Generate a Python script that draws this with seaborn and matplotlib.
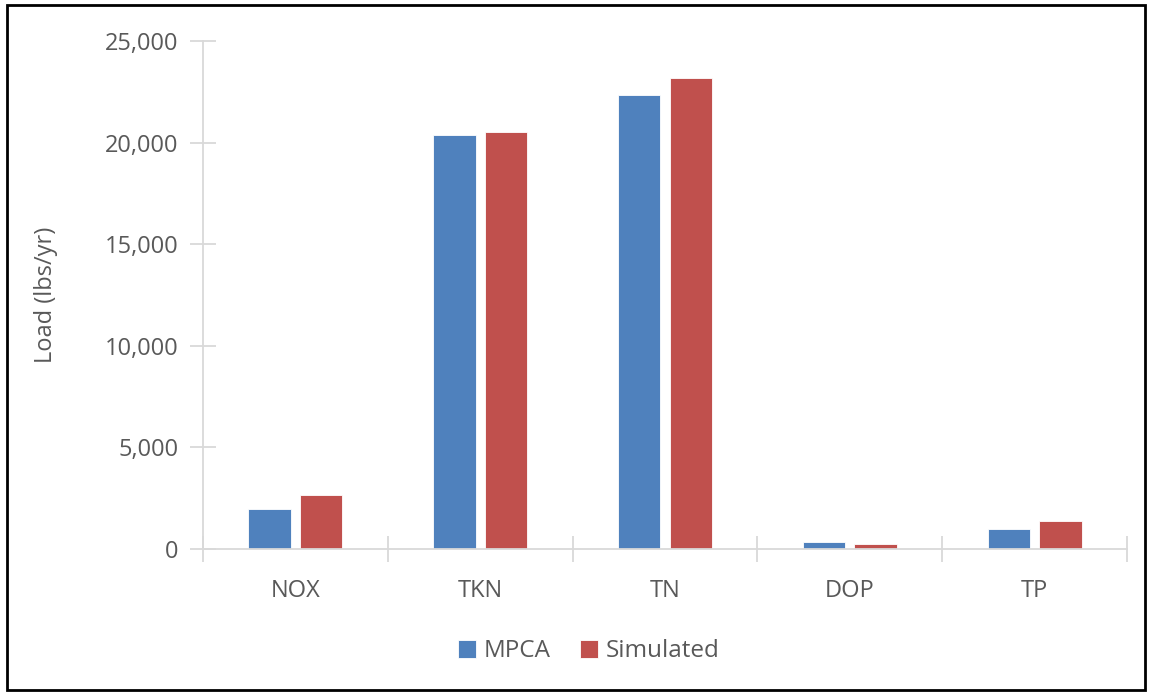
import pandas as pd
import seaborn as sns
import matplotlib.pyplot as plt
from matplotlib.patches import Rectangle

# values (lbs/yr)
categories = ["NOX", "TKN", "TN", "DOP", "TP"]
mpca = [1970, 20360, 22340, 320, 1000]
simulated = [2660, 20520, 23170, 250, 1380]

df = pd.DataFrame({
    "Constituent": categories * 2,
    "Load": mpca + simulated,
    "Source": ["MPCA"] * len(categories) + ["Simulated"] * len(categories),
})

sns.set_style("white")
plt.rcParams["font.family"] = ["Open Sans", "DejaVu Sans"]
text_color = "#595959"
axis_color = "#D9D9D9"

fig = plt.figure(figsize=(11.52, 6.95), dpi=100)
ax = fig.add_axes([203 / 1152, 1 - 549 / 695, 924 / 1152, 508 / 695])

sns.barplot(
    data=df,
    x="Constituent",
    y="Load",
    hue="Source",
    palette=["#4F81BD", "#C0504D"],
    saturation=1,
    width=0.56,
    gap=0.18,
    edgecolor="white",
    linewidth=0.6,
    ax=ax,
)

ax.set_xlim(-0.5, len(categories) - 0.5)
ax.set_ylim(0, 25000)
ax.set_yticks(range(0, 25001, 5000))
ax.set_yticklabels([f"{v:,}" for v in range(0, 25001, 5000)])
ax.set_xlabel("")
ax.set_ylabel("Load (lbs/yr)", size=17, color=text_color, labelpad=34)

# category separator ticks crossing the axis
ax.set_xticks([i - 0.5 for i in range(len(categories) + 1)], minor=True)
ax.tick_params(axis="x", which="major", bottom=False, pad=18, labelsize=17, labelcolor=text_color)
ax.tick_params(axis="x", which="minor", bottom=True, length=19, width=1.3, color=axis_color,
               direction="inout")
ax.tick_params(axis="y", which="major", left=True, length=19, width=1.3, color=axis_color,
               direction="inout", pad=8, labelsize=17, labelcolor=text_color)

for side in ["top", "right"]:
    ax.spines[side].set_visible(False)
for side in ["left", "bottom"]:
    ax.spines[side].set_color(axis_color)
    ax.spines[side].set_linewidth(1.3)

ax.legend_.remove()
handles, labels = ax.get_legend_handles_labels()
fig.legend(handles, labels, loc="center", bbox_to_anchor=(0.511, 0.063), ncol=2, frameon=False,
           fontsize=17.5, labelcolor=text_color, handlelength=0.75, handleheight=0.75,
           handletextpad=0.3, columnspacing=1.2)

# outer border
fig.patches.append(Rectangle((0.006, 0.007), 0.988, 0.986, transform=fig.transFigure,
                             fill=False, edgecolor="black", linewidth=2))

fig.savefig("out.png", dpi=100)
